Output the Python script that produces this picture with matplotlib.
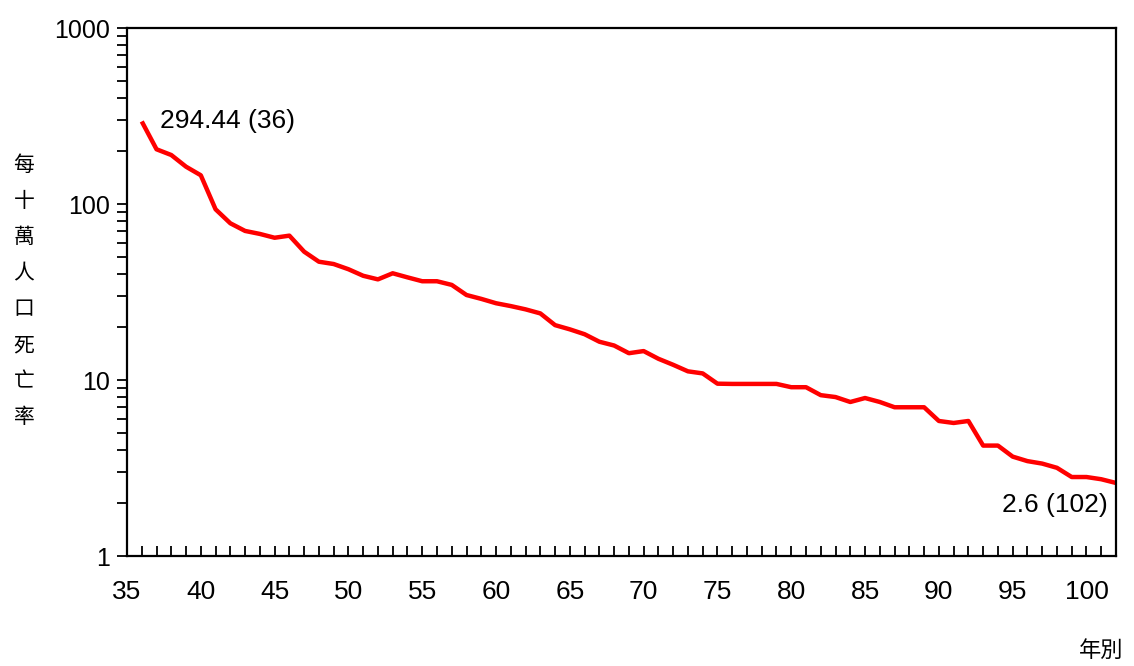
import matplotlib
matplotlib.use("Agg")
import matplotlib.pyplot as plt
from matplotlib.ticker import MultipleLocator, FixedLocator, LogLocator, NullFormatter, FixedFormatter

plt.rcParams['font.family'] = ['Liberation Sans', 'Noto Sans CJK TC', 'DejaVu Sans']

# 年別 (民國年) 與 每十萬人口死亡率
years = list(range(36, 103))
rates = [294.44, 204.6, 189.8, 162.9, 145.6, 93.3, 77.7, 70.3, 67.6, 64.3,
         66.1, 53.6, 47.0, 45.6, 42.6, 39.1, 37.3, 40.4, 38.3, 36.4,
         36.4, 34.7, 30.4, 28.9, 27.3, 26.3, 25.2, 23.9, 20.5, 19.4,
         18.2, 16.5, 15.7, 14.2, 14.6, 13.2, 12.2, 11.2, 10.9, 9.53,
         9.5, 9.5, 9.5, 9.5, 9.1, 9.1, 8.2, 8.0, 7.5, 7.9,
         7.5, 7.0, 7.0, 7.0, 5.85, 5.7, 5.85, 4.24, 4.24, 3.67,
         3.46, 3.35, 3.17, 2.81, 2.81, 2.73, 2.6]
y_ticks = [1, 10, 100, 1000]
y_ticklabels = ["1", "10", "100", "1000"]
ylabel_chars = ["每", "十", "萬", "人", "口", "死", "亡", "率"]
xlabel = "年別"

fig = plt.figure(figsize=(11.34, 6.66), dpi=100)
ax = fig.add_axes([127 / 1134, 1 - 556 / 666, (1116 - 127) / 1134, (556 - 28) / 666])

ax.plot(years, rates, color="#ff0000", linewidth=3.2, solid_joinstyle="round", solid_capstyle="butt")

ax.set_yscale("log")
ax.set_ylim(1, 1000)
ax.set_xlim(35, 102)

ax.yaxis.set_major_locator(FixedLocator(y_ticks))
ax.yaxis.set_major_formatter(FixedFormatter(y_ticklabels))
ax.yaxis.set_minor_locator(LogLocator(base=10, subs=range(2, 10)))
ax.yaxis.set_minor_formatter(NullFormatter())
ax.tick_params(axis="y", which="both", direction="out", length=7, width=1.3, labelsize=18, pad=5)

ax.xaxis.set_major_locator(MultipleLocator(5))
ax.xaxis.set_minor_locator(MultipleLocator(1))
ax.tick_params(axis="x", which="both", direction="in", length=7, width=1.3, labelsize=19, pad=17)

for s in ax.spines.values():
    s.set_linewidth(1.6)
    s.set_color("black")

# end labels
ax.annotate(f"{rates[0]:g} ({years[0]})", xy=(years[0], rates[0]), xytext=(13, 0),
            textcoords="offset points", ha="left", va="center", fontsize=19)
ax.annotate(f"{rates[-1]:g} ({years[-1]})", xy=(years[-1], rates[-1]), xytext=(-6, -16),
            textcoords="offset points", ha="right", va="center", fontsize=19)

# vertical stacked y label
for i, ch in enumerate(ylabel_chars):
    fig.text(24 / 1134, 1 - (165 + i * 36) / 666, ch, ha="center", va="center",
             fontsize=15, family=["Noto Sans CJK TC", "DejaVu Sans"])

fig.text(1101 / 1134, 1 - 650 / 666, xlabel, ha="center", va="center",
         fontsize=16, family=["Noto Sans CJK TC", "DejaVu Sans"])

fig.savefig("out.png", dpi=100)
